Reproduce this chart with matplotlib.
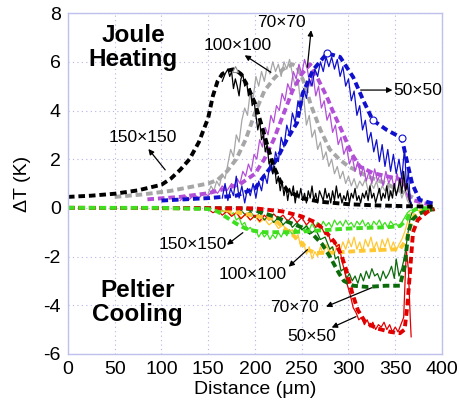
import matplotlib
matplotlib.use("Agg")
import matplotlib.pyplot as plt

plt.rcParams['font.family'] = ['Liberation Sans', 'DejaVu Sans']
plt.rcParams['axes.unicode_minus'] = False

# ---------------- data ----------------
# Joule heating, simulations (dashed)
sim150_h_x = [0, 25, 50, 75, 100, 110, 120, 130, 140, 150, 155, 160, 165, 172, 178, 185, 192, 200, 207, 213, 220, 227, 235, 250, 270, 300, 330, 360, 390]
sim150_h_y = [0.45, 0.5, 0.58, 0.72, 0.95, 1.2, 1.56, 2.0, 2.7, 3.7, 4.6, 5.2, 5.5, 5.65, 5.7, 5.5, 5.0, 4.3, 3.4, 2.6, 1.7, 1.1, 0.7, 0.4, 0.25, 0.15, 0.1, 0.07, 0.05]
sim100_h_x = [50, 80, 110, 130, 150, 160, 170, 180, 190, 200, 210, 220, 230, 240, 245, 252, 260, 270, 280, 290, 300, 320, 340, 360, 375, 390]
sim100_h_y = [0.45, 0.55, 0.7, 0.85, 1.0, 1.15, 1.5, 2.0, 2.8, 3.9, 4.8, 5.3, 5.7, 5.9, 5.8, 5.2, 4.2, 3.2, 2.4, 2.0, 1.7, 1.3, 1.0, 0.6, 0.3, 0.1]
sim70_h_x = [85, 120, 150, 170, 185, 200, 210, 220, 230, 240, 250, 259, 266, 277, 284, 294, 303, 312, 326, 344, 358, 362, 366, 380, 390]
sim70_h_y = [0.35, 0.45, 0.6, 0.8, 1.0, 1.4, 2.0, 2.8, 3.8, 4.8, 5.5, 5.9, 5.4, 4.55, 3.9, 3.07, 2.25, 1.7, 1.43, 1.27, 1.15, 0.8, 0.35, 0.2, 0.12]
sim50_h_x = [100, 150, 180, 200, 209, 223, 234, 245, 251, 262, 277, 291, 305, 316, 326, 341, 357, 362, 368, 376, 390]
sim50_h_y = [0.3, 0.4, 0.5, 0.8, 1.27, 1.97, 2.8, 3.5, 4.7, 5.66, 6.35, 6.2, 5.37, 4.4, 3.6, 3.2, 2.87, 2.0, 1.0, 0.33, 0.18]

# Joule heating, measurements (thin solid)
exp150_h_x = [165, 168, 171, 173, 175, 177, 179, 181, 183, 185, 187, 189, 191, 193, 195, 197, 199, 201, 203, 205, 207, 209, 211, 213, 215, 217, 219, 221, 223, 225, 227, 229, 231, 233, 235, 237, 239, 241, 243, 245, 247, 249, 251, 253, 255, 257, 259, 261, 263, 265, 267, 269, 271, 273, 275, 277, 279, 281, 283, 285, 287, 289, 291, 293, 295, 297, 299, 301, 303, 305, 307, 309, 311, 313, 315, 317, 319, 321, 323, 325, 327, 329, 331, 333, 335, 337, 339, 341, 343, 345, 347, 349, 351, 353, 355, 357, 359, 361, 363, 365, 367]
exp150_h_y = [5.2, 5.5, 5.7, 5.4, 5.6, 4.9, 5.3, 5.0, 4.6, 5.3, 5.5, 5.0, 5.2, 4.6, 4.9, 4.2, 4.4, 3.8, 3.2, 3.6, 2.8, 3.0, 2.3, 2.6, 1.8, 2.0, 1.4, 1.7, 1.0, 1.3, 0.7, 1.1, 0.5, 0.9, 0.3, 0.8, 0.5, 0.9, 0.2, 0.7, 0.4, 0.8, 0.3, 0.6, 0.2, 0.7, 0.4, 0.9, 0.3, 0.6, 0.2, 0.7, 0.5, 0.3, 0.8, 0.4, 0.6, 0.2, 0.7, 0.3, 0.9, 0.4, 0.6, 0.2, 0.5, 0.3, 0.7, 0.2, 0.6, 0.4, 0.8, 0.3, 0.5, 0.2, 0.6, 0.4, 0.7, 0.3, 0.9, 0.4, 0.6, 0.2, 0.5, 0.8, 0.3, 0.6, 0.4, 0.9, 0.3, 0.7, 0.4, 1.0, 0.5, 0.8, 1.2, 0.6, 1.5, 0.7, 1.0, 0.3, 0.1]
exp100_h_x = [150, 153, 156, 159, 162, 165, 168, 171, 174, 177, 180, 183, 186, 189, 192, 195, 198, 201, 204, 207, 210, 213, 216, 219, 222, 225, 228, 231, 234, 237, 240, 243, 246, 249, 252, 255, 258, 261, 264, 267, 270, 273, 276, 279, 282, 285, 288, 291, 294, 297, 300, 303, 306, 309, 312, 315, 318, 321, 324, 327, 330, 333, 336, 339, 342, 345, 348, 351, 354, 357, 360, 363, 366]
exp100_h_y = [0.6, 0.9, 0.7, 1.1, 0.9, 1.4, 1.2, 1.8, 2.4, 2.1, 3.0, 2.7, 3.6, 4.1, 3.8, 4.8, 4.5, 5.4, 5.0, 5.6, 5.2, 5.8, 5.5, 6.0, 5.6, 5.9, 5.4, 6.0, 5.7, 6.1, 5.5, 5.0, 5.3, 4.2, 4.6, 3.4, 3.8, 2.9, 3.2, 2.4, 2.7, 2.0, 2.3, 1.7, 2.0, 1.4, 1.7, 1.2, 1.5, 1.0, 1.3, 0.9, 1.2, 0.8, 1.1, 0.9, 1.2, 0.7, 1.0, 0.8, 1.1, 0.6, 0.9, 0.7, 1.0, 0.5, 0.8, 0.6, 0.9, 0.4, 0.7, 0.3, 0.1]
exp70_h_x = [120, 125, 130, 135, 140, 145, 150, 155, 160, 165, 170, 175, 178, 181, 184, 187, 190, 193, 196, 199, 202, 205, 208, 211, 214, 217, 220, 223, 226, 229, 232, 235, 238, 241, 244, 247, 250, 253, 256, 259, 262, 265, 268, 271, 274, 277, 280, 283, 286, 289, 292, 295, 298, 301, 304, 307, 310, 313, 316, 319, 322, 325, 328, 331, 334, 337, 340, 343, 346, 349, 352, 355, 358, 361, 364, 367]
exp70_h_y = [0.3, 0.5, 0.35, 0.55, 0.4, 0.6, 0.5, 0.75, 0.6, 0.9, 0.7, 1.0, 0.8, 1.2, 1.0, 1.5, 1.3, 1.8, 1.5, 2.2, 2.0, 2.8, 2.5, 3.3, 3.0, 3.8, 3.5, 4.2, 4.0, 4.7, 4.4, 5.1, 4.8, 5.6, 5.3, 5.9, 5.5, 6.1, 5.7, 5.0, 5.5, 4.6, 5.0, 4.1, 4.4, 3.6, 3.9, 3.1, 3.4, 2.6, 2.9, 2.2, 2.5, 1.8, 2.1, 1.5, 1.9, 1.3, 1.7, 1.1, 1.5, 1.0, 1.6, 1.1, 1.4, 0.9, 1.5, 1.0, 1.3, 0.8, 1.4, 0.9, 1.2, 0.7, 0.4, 0.2]
exp50_h_x = [165, 168, 171, 174, 177, 180, 183, 186, 189, 192, 195, 198, 201, 204, 207, 210, 213, 216, 219, 222, 225, 228, 231, 234, 237, 240, 243, 246, 249, 252, 255, 258, 261, 264, 267, 270, 273, 276, 279, 282, 285, 288, 291, 294, 297, 300, 303, 306, 309, 312, 315, 318, 321, 324, 327, 330, 333, 336, 339, 342, 345, 348, 351, 354, 357, 360, 362, 364, 366, 368]
exp50_h_y = [0.4, 1.0, 0.3, 0.8, 0.5, 1.3, 0.4, 0.9, 0.2, 0.8, 0.5, 1.0, 0.4, 1.1, 0.7, 1.4, 1.0, 1.8, 1.4, 2.3, 1.9, 2.9, 2.5, 3.4, 3.0, 3.9, 3.5, 4.4, 4.0, 4.9, 4.5, 5.3, 5.0, 5.7, 5.4, 6.0, 5.6, 6.2, 5.8, 6.2, 5.7, 6.1, 5.4, 5.8, 5.0, 5.3, 4.4, 4.8, 3.8, 4.2, 3.2, 3.6, 2.7, 3.1, 2.3, 2.8, 1.9, 2.6, 1.7, 2.4, 1.5, 2.2, 1.4, 2.0, 1.2, 2.5, 0.8, 1.5, 0.3, 0.1]

# Peltier cooling, simulations (dashed)
sim150_c_x = [0, 100, 150, 160, 170, 180, 190, 200, 210, 240, 260, 280, 300, 320, 340, 355, 362, 366, 372, 380, 390]
sim150_c_y = [0, 0, -0.05, -0.15, -0.4, -0.65, -0.85, -0.95, -1.0, -1.0, -0.95, -0.9, -0.85, -0.82, -0.8, -0.75, -0.5, -0.2, -0.05, -0.02, 0]
sim100_c_x = [0, 150, 170, 190, 210, 220, 230, 240, 250, 258, 265, 280, 300, 320, 340, 355, 362, 367, 372, 380, 390]
sim100_c_y = [0, -0.02, -0.1, -0.25, -0.4, -0.45, -0.8, -1.1, -1.45, -1.75, -1.85, -1.85, -1.8, -1.75, -1.72, -1.7, -1.3, -0.6, -0.2, -0.1, -0.05]
sim70_c_x = [0, 190, 200, 220, 240, 250, 262, 272, 280, 285, 290, 295, 305, 320, 340, 355, 360, 364, 368, 375, 385, 392]
sim70_c_y = [0, -0.02, -0.1, -0.35, -0.65, -0.8, -1.1, -1.5, -2.0, -2.35, -2.7, -3.0, -3.2, -3.25, -3.2, -3.2, -2.4, -1.0, -0.5, -0.25, -0.1, -0.05]
sim50_c_x = [0, 200, 230, 250, 265, 275, 285, 292, 298, 304, 310, 318, 330, 345, 355, 360, 363, 366, 369, 374, 380, 385, 392]
sim50_c_y = [0, -0.02, -0.15, -0.35, -0.6, -0.95, -1.4, -1.9, -2.6, -3.5, -4.2, -4.7, -4.95, -5.1, -5.15, -5.0, -4.0, -2.5, -1.0, -0.5, -0.3, -0.15, -0.05]

# Peltier cooling, measurements (thin solid)
exp150_c_x = [165, 168, 171, 174, 177, 180, 183, 186, 189, 192, 195, 198, 201, 204, 207, 210, 213, 216, 219, 222, 225, 228, 231, 234, 237, 240, 243, 246, 249, 252, 255, 258, 261, 264, 267, 270, 273, 276, 279, 282, 285, 288, 291, 294, 297, 300, 303, 306, 309, 312, 315, 318, 321, 324, 327, 330, 333, 336, 339, 342, 345, 348, 351, 354, 357, 360, 363, 366]
exp150_c_y = [-0.1, -0.2, -0.1, -0.3, -0.2, -0.5, -0.4, -0.7, -0.6, -0.9, -0.8, -1.0, -0.9, -1.2, -1.0, -1.2, -1.05, -1.3, -1.1, -1.25, -1.0, -1.2, -0.95, -1.15, -0.9, -1.1, -0.85, -1.0, -0.8, -0.95, -0.7, -0.9, -0.65, -0.85, -0.6, -0.8, -0.55, -0.75, -0.6, -0.8, -0.5, -0.7, -0.55, -0.75, -0.5, -0.7, -0.6, -0.8, -0.55, -0.7, -0.5, -0.75, -0.6, -0.8, -0.55, -0.7, -0.5, -0.75, -0.6, -0.8, -0.55, -0.7, -0.65, -0.8, -0.6, -0.4, -0.2, -0.1]
exp100_c_x = [160, 165, 170, 175, 180, 185, 190, 195, 200, 205, 210, 215, 220, 225, 230, 235, 240, 243, 246, 249, 252, 255, 258, 261, 264, 267, 270, 273, 276, 279, 282, 285, 288, 291, 294, 297, 300, 303, 306, 309, 312, 315, 318, 321, 324, 327, 330, 333, 336, 339, 342, 345, 348, 351, 354, 357, 360, 363, 366]
exp100_c_y = [-0.05, -0.15, -0.1, -0.3, -0.2, -0.4, -0.3, -0.5, -0.35, -0.6, -0.45, -0.7, -0.55, -0.85, -0.7, -1.0, -0.9, -1.3, -1.1, -1.6, -1.4, -1.9, -1.6, -2.1, -1.8, -2.0, -1.6, -1.9, -1.5, -1.8, -1.6, -1.9, -1.5, -1.8, -1.4, -1.7, -1.3, -1.6, -1.2, -1.7, -1.4, -1.8, -1.3, -1.6, -1.2, -1.7, -1.4, -1.8, -1.3, -1.6, -1.25, -1.7, -1.4, -1.75, -1.5, -1.3, -1.0, -0.6, -0.2]
exp70_c_x = [185, 190, 195, 200, 205, 210, 215, 220, 225, 230, 235, 240, 245, 250, 255, 260, 265, 270, 275, 280, 283, 286, 289, 292, 295, 298, 301, 304, 307, 310, 313, 316, 319, 322, 325, 328, 331, 334, 337, 340, 343, 346, 349, 351, 354, 357, 360, 363, 366, 369]
exp70_c_y = [-0.1, -0.3, -0.15, -0.4, -0.2, -0.5, -0.3, -0.6, -0.4, -0.7, -0.5, -0.8, -0.6, -0.9, -0.75, -1.05, -0.9, -1.3, -1.2, -1.7, -1.6, -2.1, -2.0, -2.6, -2.5, -2.9, -2.7, -3.0, -2.8, -3.1, -2.7, -3.0, -2.6, -2.9, -2.5, -2.8, -2.7, -3.0, -2.6, -2.9, -2.7, -2.4, -2.9, -2.1, -2.8, -2.5, -2.0, -1.2, -0.4, -0.1]
exp50_c_x = [150, 155, 160, 165, 170, 175, 180, 185, 190, 195, 200, 205, 210, 215, 220, 225, 230, 235, 240, 245, 250, 255, 260, 265, 270, 275, 278, 281, 284, 287, 290, 293, 296, 299, 302, 305, 308, 311, 314, 317, 320, 323, 326, 329, 332, 335, 338, 341, 344, 347, 350, 353, 356, 359, 361, 362, 364, 366, 367]
exp50_c_y = [-0.05, -0.2, -0.1, -0.3, -0.15, -0.35, -0.2, -0.45, -0.25, -0.5, -0.3, -0.55, -0.3, -0.5, -0.25, -0.45, -0.3, -0.55, -0.35, -0.6, -0.4, -0.7, -0.5, -0.8, -0.7, -1.1, -1.0, -1.4, -1.3, -1.6, -1.5, -2.2, -2.6, -3.2, -3.6, -4.1, -4.3, -4.6, -4.5, -4.8, -4.6, -4.9, -4.7, -5.0, -4.8, -4.9, -4.7, -5.0, -4.8, -5.1, -4.9, -5.1, -4.8, -4.5, -2.5, -1.8, -2.5, -4.5, -5.3]

# open markers on the simulated curves
mk50_x = [277, 326, 357]
mk50_y = [6.35, 3.6, 2.87]
mk150_x = [179]
mk150_y = [5.72]

xticks = [0, 50, 100, 150, 200, 250, 300, 350, 400]
yticks = [-6, -4, -2, 0, 2, 4, 6, 8]

# ---------------- styles ----------------
C_BLACK = '#000000'
C_GRAY = '#a6a6a6'
C_MAG = '#b24fd6'
C_BLUE = '#1010cc'
C_LGREEN = '#3ee01e'
C_YEL = '#ffc833'
C_DGREEN = '#0b6b0b'
C_RED = '#e00000'
DASH = (0, (1.7, 1.0))
LW_D = 2.8
LW_S = 0.9

fig = plt.figure(figsize=(4.59, 4.11), dpi=100)
ax = fig.add_axes([0.148, 0.139, 0.815, 0.829])

# cooling
ax.plot(exp150_c_x, exp150_c_y, color=C_LGREEN, lw=LW_S)
ax.plot(exp100_c_x, exp100_c_y, color=C_YEL, lw=LW_S)
ax.plot(exp70_c_x, exp70_c_y, color=C_DGREEN, lw=LW_S)
ax.plot(exp50_c_x, exp50_c_y, color=C_RED, lw=LW_S)
ax.plot(sim100_c_x, sim100_c_y, color=C_YEL, lw=LW_D, ls=DASH)
ax.plot(sim70_c_x, sim70_c_y, color=C_DGREEN, lw=LW_D, ls=DASH)
ax.plot(sim50_c_x, sim50_c_y, color=C_RED, lw=LW_D, ls=DASH)
ax.plot(sim150_c_x, sim150_c_y, color=C_LGREEN, lw=LW_D, ls=DASH)

# heating
ax.plot(sim100_h_x, sim100_h_y, color=C_GRAY, lw=LW_D, ls=DASH)
ax.plot(exp100_h_x, exp100_h_y, color=C_GRAY, lw=LW_S)
ax.plot(sim70_h_x, sim70_h_y, color=C_MAG, lw=LW_D, ls=DASH)
ax.plot(exp70_h_x, exp70_h_y, color=C_MAG, lw=LW_S)
ax.plot(sim50_h_x, sim50_h_y, color=C_BLUE, lw=LW_D, ls=DASH)
ax.plot(exp50_h_x, exp50_h_y, color=C_BLUE, lw=LW_S)
ax.plot(exp150_h_x, exp150_h_y, color=C_BLACK, lw=LW_S)
ax.plot(sim150_h_x, sim150_h_y, color=C_BLACK, lw=LW_D, ls=DASH)
ax.plot(mk50_x, mk50_y, ls='none', marker='o', ms=5, mfc='white', mec=C_BLUE, mew=0.8)
ax.plot(mk150_x, mk150_y, ls='none', marker='^', ms=5, mfc='white', mec='#888888', mew=0.8)

ax.set_xlim(0, 400)
ax.set_ylim(-6, 8)
ax.set_xticks(xticks)
ax.set_yticks(yticks)
ax.tick_params(labelsize=14, length=0, pad=5)
ax.grid(True, color='#b4b4e6', lw=0.8, ls=(0, (1, 3)))
for s in ax.spines.values():
    s.set_color('#c0c0ec')
    s.set_linewidth(1.0)
ax.set_xlabel('Distance (\u03bcm)', fontsize=14, labelpad=2)
ax.set_ylabel('\u0394T (K)', fontsize=14, labelpad=9)

# big labels
ax.text(70, 6.6, 'Joule\nHeating', fontsize=17.5, fontweight='bold', ha='center', va='center', linespacing=1.05)
ax.text(74, -3.9, 'Peltier\nCooling', fontsize=17.5, fontweight='bold', ha='center', va='center', linespacing=1.05)

# size labels with arrows (text position, arrow tail, arrow tip)
labels = [
    ('150\u00d7150', (80, 2.9), (104, 1.56), (86, 2.42)),
    ('100\u00d7100', (181, 6.68), (217, 5.57), (189, 6.27)),
    ('70\u00d770', (228, 7.62), (256, 5.78), (260, 7.3)),
    ('50\u00d750', (374, 4.84), (313, 4.84), (347, 4.84)),
    ('150\u00d7150', (134, -1.52), (187, -1.02), (170, -1.52)),
    ('100\u00d7100', (198, -2.75), (256, -1.72), (236, -2.42)),
    ('70\u00d770', (242, -4.1), (325, -3.28), (276, -4.06)),
    ('50\u00d750', (261, -5.3), (308, -4.47), (282, -4.92)),
]
for txt, pos, tail, tip in labels:
    ax.text(pos[0], pos[1], txt, fontsize=12.5, ha='center', va='center')
    ax.annotate('', xy=tip, xytext=tail,
                arrowprops=dict(arrowstyle='-|>', color='black', lw=0.9,
                                mutation_scale=8, shrinkA=0, shrinkB=0))

fig.savefig('out.png', dpi=100)
